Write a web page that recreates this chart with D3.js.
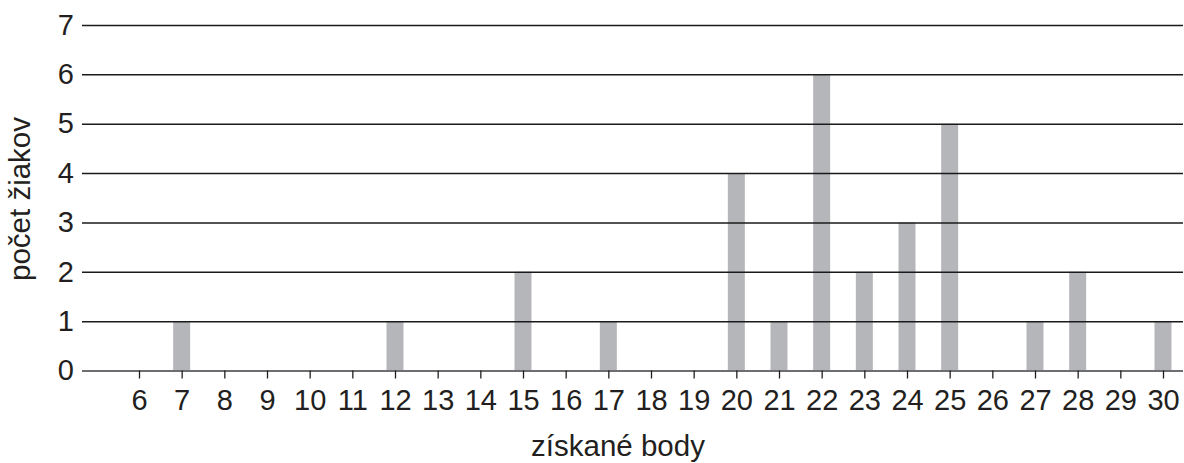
<!DOCTYPE html>
<html>
<head>
<meta charset="utf-8">
<script src="https://cdn.jsdelivr.net/npm/d3@7"></script>
<style>
  body { margin: 0; background: #fff; }
  text { font-family: "Liberation Sans", Arial, sans-serif; fill: #231f20; }
</style>
</head>
<body>
<div id="chart"></div>
<script>
// ---------------- data ----------------
var points = [6, 7, 8, 9, 10, 11, 12, 13, 14, 15, 16, 17, 18, 19, 20, 21, 22, 23, 24, 25, 26, 27, 28, 29, 30];
var students = [0, 1, 0, 0, 0, 0, 1, 0, 0, 2, 0, 1, 0, 0, 4, 1, 6, 2, 3, 5, 0, 1, 2, 0, 1];
var yTicks = [0, 1, 2, 3, 4, 5, 6, 7];
var xTitle = "získané body",
  yTitle = "počet žiakov";

// ---------------- svg ----------------
var width = 1184,
  height = 463;
var plotL = 82, plotR = 1183, plotT = 25, plotB = 370.5;

var svg = d3.select("#chart").append("svg")
  .attr("width", width)
  .attr("height", height);

var x = d3.scalePoint()
  .domain(points)
  .range([139, 1163]);

var y = d3.scaleLinear()
  .domain([0, 7])
  .range([plotB, plotT]);

var barW = 17;

// bars
svg.selectAll(".bar")
  .data(points.map(function (p, i) { return { p: p, v: students[i] }; }))
  .enter().append("rect")
  .attr("class", "bar")
  .attr("x", function (d) { return x(d.p) - barW / 2; })
  .attr("y", function (d) { return y(d.v); })
  .attr("width", barW)
  .attr("height", function (d) { return y(0) - y(d.v); })
  .attr("fill", "#b5b6b9");

// y grid + labels
var yAxis = svg.append("g")
  .attr("transform", "translate(" + plotL + ",0)")
  .call(d3.axisLeft(y)
    .tickValues(yTicks)
    .tickFormat(d3.format("d"))
    .tickSize(-(plotR - plotL))
    .tickPadding(8));
yAxis.select(".domain").remove();
yAxis.selectAll("line")
  .attr("stroke", function (d) { return d === 0 ? "#6d6e71" : "#1a1a1a"; })
  .attr("stroke-width", function (d) { return d === 0 ? 2.2 : 1.5; });
yAxis.selectAll("text")
  .attr("font-size", 29)
  .attr("font-family", null)
  .attr("fill", "#231f20");

// x ticks + labels
var xAxis = svg.append("g")
  .attr("transform", "translate(0," + plotB + ")")
  .call(d3.axisBottom(x).tickSize(8).tickPadding(11));
xAxis.select(".domain").remove();
xAxis.selectAll("line")
  .attr("stroke", "#231f20")
  .attr("stroke-width", 1.3);
xAxis.selectAll("text")
  .attr("font-size", 29)
  .attr("font-family", null)
  .attr("fill", "#231f20");

// titles
svg.append("text")
  .attr("x", 618)
  .attr("y", 456)
  .attr("text-anchor", "middle")
  .attr("font-size", 29.5)
  .text(xTitle);

svg.append("text")
  .attr("transform", "translate(30,199) rotate(-90)")
  .attr("text-anchor", "middle")
  .attr("font-size", 29.5)
  .text(yTitle);
</script>
</body>
</html>
